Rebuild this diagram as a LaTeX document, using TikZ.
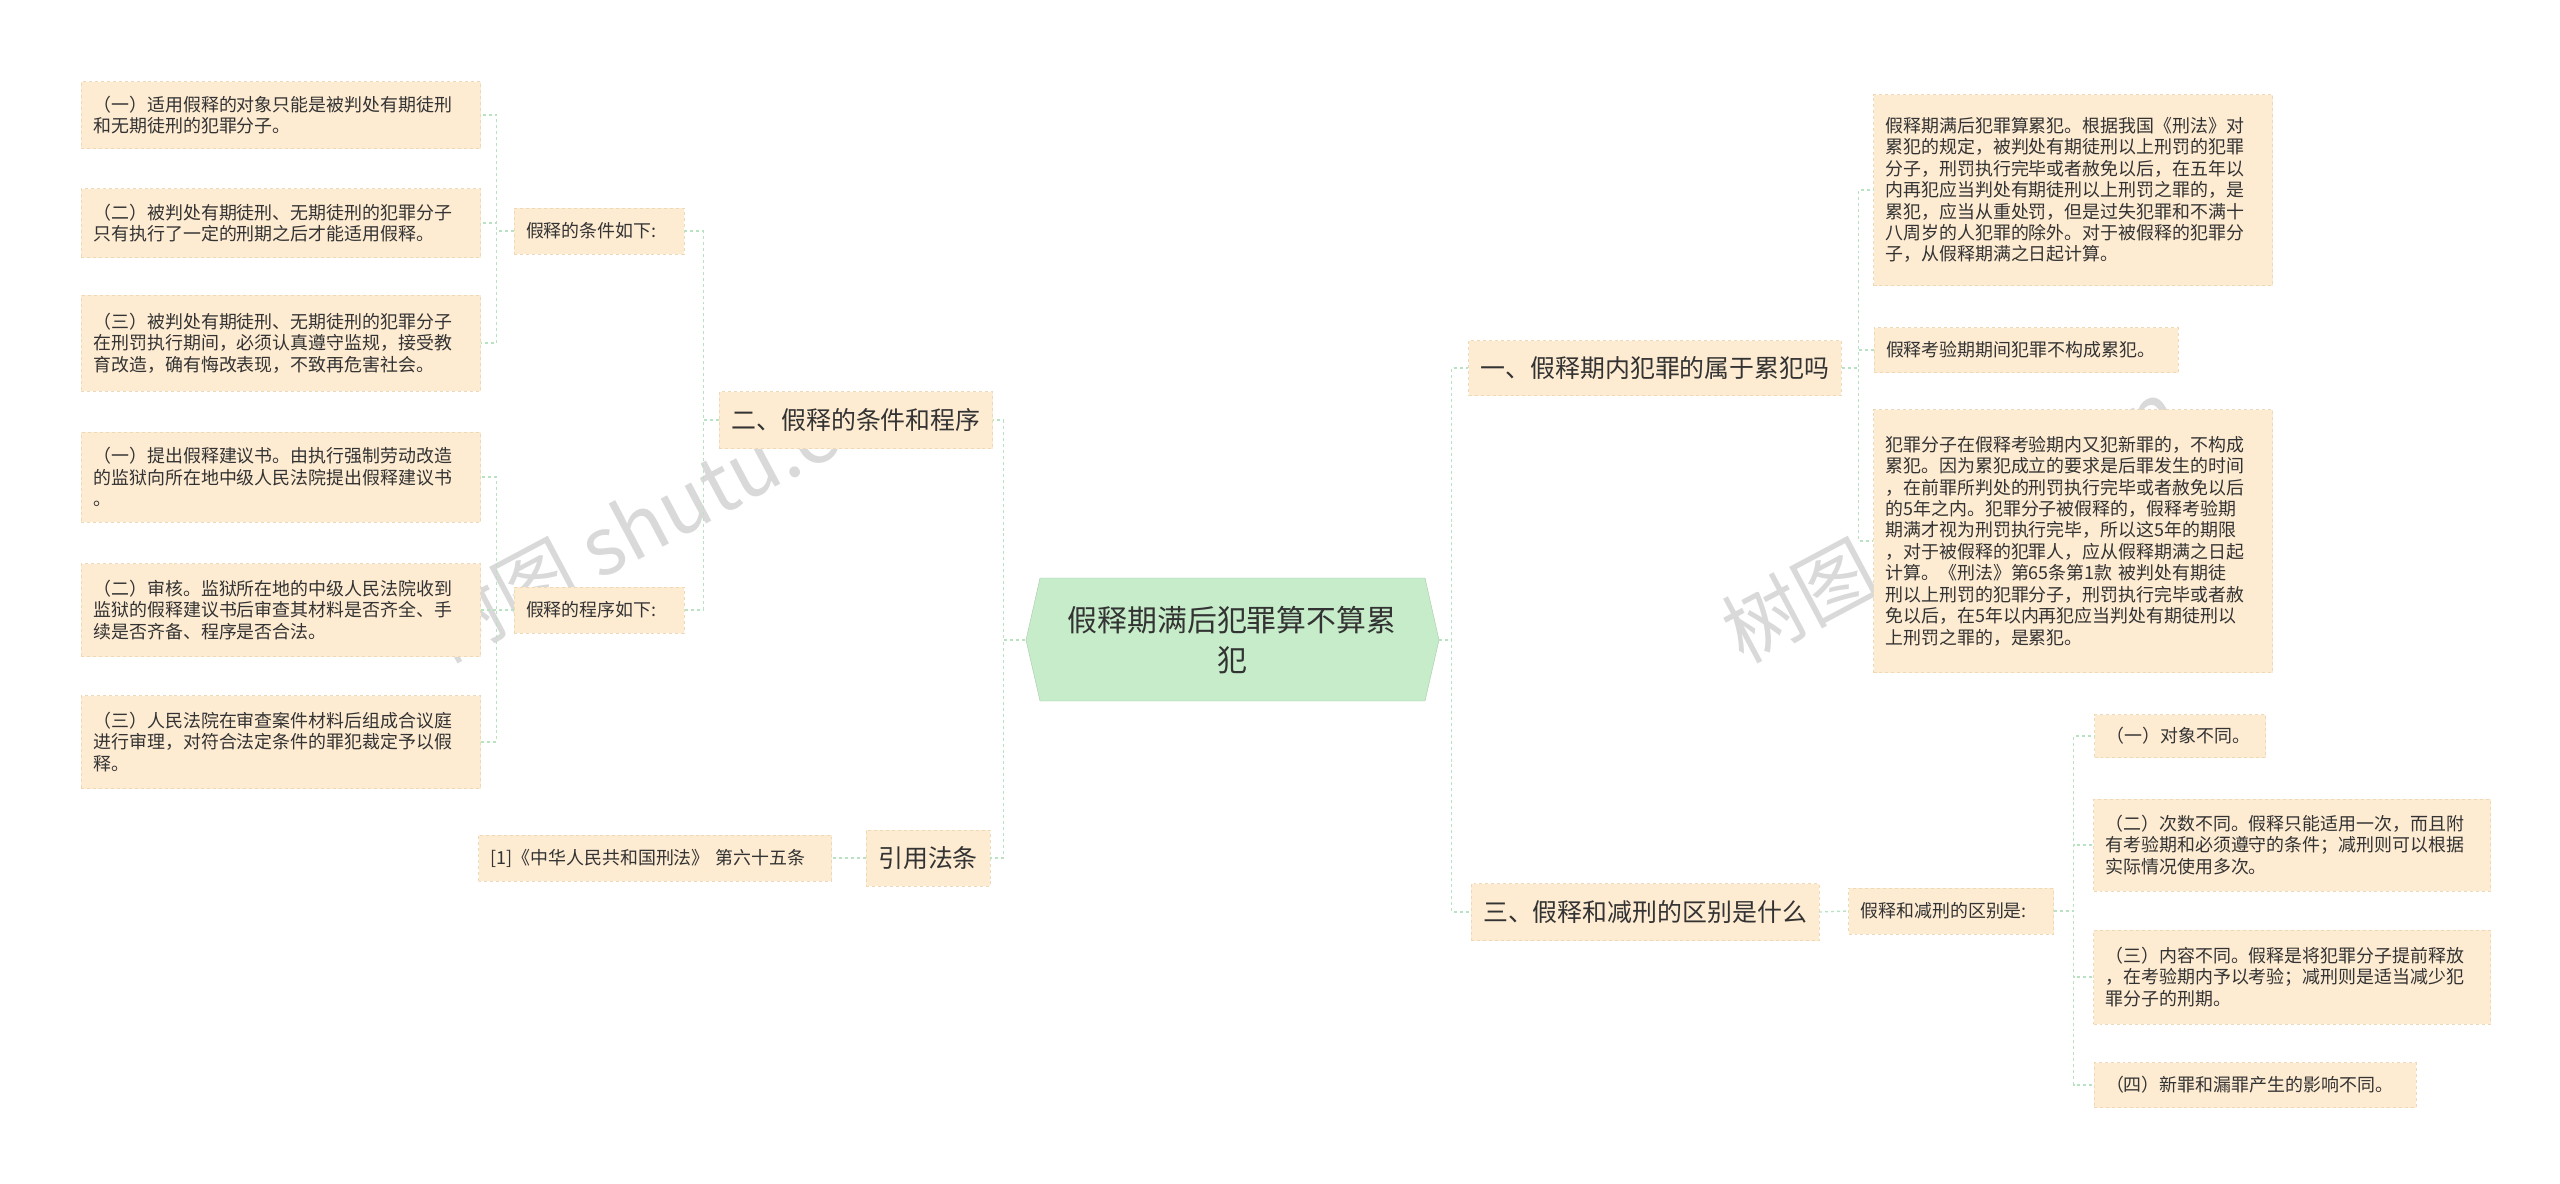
\documentclass[tikz,border=0pt]{standalone}
\usepackage{fontspec}
\setmainfont{Noto Sans CJK SC}
\definecolor{boxf}{HTML}{FDEBD2}
\definecolor{boxd}{HTML}{EDD9B8}
\definecolor{lnc}{HTML}{B8E2C2}
\definecolor{cenf}{HTML}{C6ECC9}
\definecolor{txt}{HTML}{333333}
\tikzset{
 leaf/.style={draw=boxd,dashed,fill=boxf,inner xsep=12bp,inner ysep=2bp,align=left,text=txt,
   font=\fontsize{18}{21.5}\selectfont,anchor=center},
 mid/.style={leaf,font=\fontsize{25}{30}\selectfont,align=center},
 conn/.style={draw=lnc,dashed,line width=1.3bp},
}
\newcommand{\lf}[6]{\node[leaf,minimum width=#4bp,minimum height=#5bp,text width=#4bp-24bp] (#1) at (#2,#3) {#6};}
\begin{document}
\begin{tikzpicture}[x=1bp,y=-1bp]
\useasboundingbox (0,0) rectangle (2560,1183);
% watermarks
\foreach \p in {(650,520),(1950,520)}
  \node[rotate=28,text=black!15,font=\fontsize{80}{80}\selectfont] at \p {树图 shutu.cn};
% center
\draw[fill=cenf,draw=cenf!85!black] (1026,640) -- (1040,578) -- (1425,578) -- (1439,640) -- (1425,701) -- (1040,701) -- cycle;
\node[minimum width=413bp,minimum height=123bp,text=txt,align=center,font=\fontsize{30}{40}\selectfont] (c) at (1232,640) {假释期满后犯罪算不算累\\犯};
% level 1
\node[mid,minimum width=268bp,minimum height=57bp] (b2) at (856,420) {二、假释的条件和程序};
\node[mid,minimum width=124bp,minimum height=56bp] (bref) at (928,858) {引用法条};
\node[mid,minimum width=366bp,minimum height=55bp] (b1) at (1655,368) {一、假释期内犯罪的属于累犯吗};
\node[mid,minimum width=345bp,minimum height=57bp] (b3) at (1645,912) {三、假释和减刑的区别是什么};
% level 2
\lf{cond}{599}{231}{170}{46}{假释的条件如下:}
\lf{prog}{599}{610}{170}{46}{假释的程序如下:}
\lf{ref}{655}{858}{353}{46}{[1]《中华人民共和国刑法》 第六十五条}
\lf{diff}{1951}{911}{205}{46}{假释和减刑的区别是:}
% left leaves
\lf{L1}{281}{115}{399}{67}{（一）适用假释的对象只能是被判处有期徒刑\\和无期徒刑的犯罪分子。}
\lf{L2}{281}{223}{399}{69}{（二）被判处有期徒刑、无期徒刑的犯罪分子\\只有执行了一定的刑期之后才能适用假释。}
\lf{L3}{281}{343}{399}{96}{（三）被判处有期徒刑、无期徒刑的犯罪分子\\在刑罚执行期间，必须认真遵守监规，接受教\\育改造，确有悔改表现，不致再危害社会。}
\lf{P1}{281}{477}{399}{90}{（一）提出假释建议书。由执行强制劳动改造\\的监狱向所在地中级人民法院提出假释建议书\\。}
\lf{P2}{281}{610}{399}{93}{（二）审核。监狱所在地的中级人民法院收到\\监狱的假释建议书后审查其材料是否齐全、手\\续是否齐备、程序是否合法。}
\lf{P3}{281}{742}{399}{93}{（三）人民法院在审查案件材料后组成合议庭\\进行审理，对符合法定条件的罪犯裁定予以假\\释。}
% right leaves
\lf{R1}{2073}{190}{399}{191}{假释期满后犯罪算累犯。根据我国《刑法》对\\累犯的规定，被判处有期徒刑以上刑罚的犯罪\\分子，刑罚执行完毕或者赦免以后，在五年以\\内再犯应当判处有期徒刑以上刑罚之罪的，是\\累犯，应当从重处罚，但是过失犯罪和不满十\\八周岁的人犯罪的除外。对于被假释的犯罪分\\子，从假释期满之日起计算。}
\lf{R2}{2026}{350}{304}{45}{假释考验期期间犯罪不构成累犯。}
\lf{R3}{2073}{541}{399}{263}{犯罪分子在假释考验期内又犯新罪的，不构成\\累犯。因为累犯成立的要求是后罪发生的时间\\，在前罪所判处的刑罚执行完毕或者赦免以后\\的5年之内。犯罪分子被假释的，假释考验期\\期满才视为刑罚执行完毕，所以这5年的期限\\，对于被假释的犯罪人，应从假释期满之日起\\计算。《刑法》第65条第1款 被判处有期徒\\刑以上刑罚的犯罪分子，刑罚执行完毕或者赦\\免以后，在5年以内再犯应当判处有期徒刑以\\上刑罚之罪的，是累犯。}
\lf{D1}{2180}{736}{171}{43}{（一）对象不同。}
\lf{D2}{2292}{845}{397}{92}{（二）次数不同。假释只能适用一次，而且附\\有考验期和必须遵守的条件；减刑则可以根据\\实际情况使用多次。}
\lf{D3}{2292}{977}{397}{94}{（三）内容不同。假释是将犯罪分子提前释放\\，在考验期内予以考验；减刑则是适当减少犯\\罪分子的刑期。}
\lf{D4}{2255}{1085}{322}{45}{（四）新罪和漏罪产生的影响不同。}
% connectors
\foreach \ch in {b2,bref} \draw[conn] (c.west) -- ++(-22,0) |- (\ch.east);
\foreach \ch in {b1,b3} \draw[conn] (c.east) -- ++(13,0) |- (\ch.west);
\foreach \ch in {cond,prog} \draw[conn] (b2.west) -- ++(-16,0) |- (\ch.east);
\foreach \ch in {L1,L2,L3} \draw[conn] (cond.west) -- ++(-17,0) |- (\ch.east);
\foreach \ch in {P1,P2,P3} \draw[conn] (prog.west) -- ++(-17,0) |- (\ch.east);
\draw[conn] (bref.west) -- (ref.east);
\foreach \ch in {R1,R2,R3} \draw[conn] (b1.east) -- ++(17,0) |- (\ch.west);
\draw[conn] (b3.east) -- (diff.west);
\foreach \ch in {D1,D2,D3,D4} \draw[conn] (diff.east) -- ++(20,0) |- (\ch.west);
\end{tikzpicture}
\end{document}
